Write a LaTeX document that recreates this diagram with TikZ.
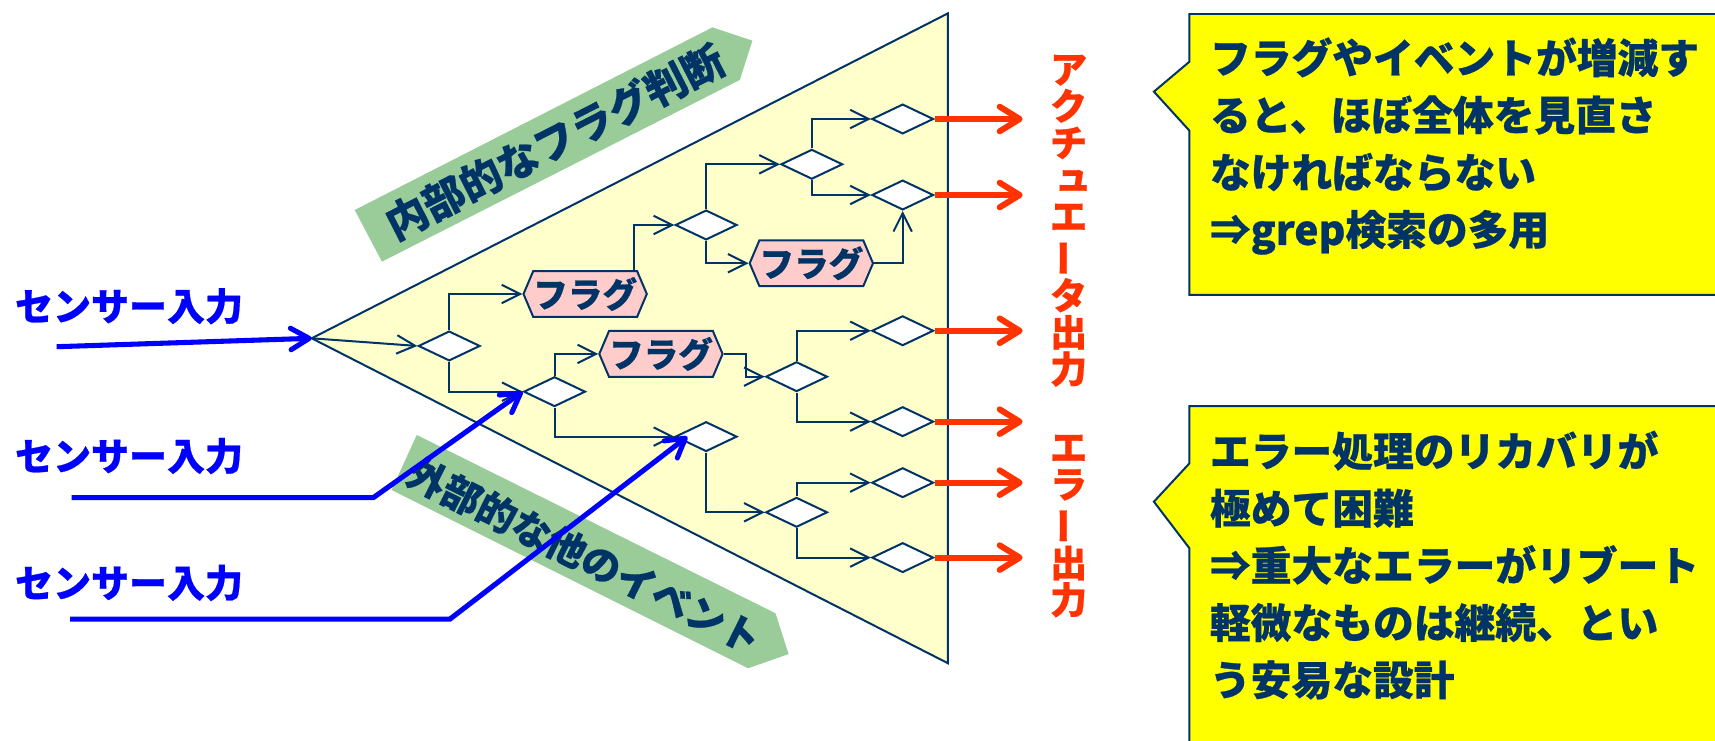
\documentclass[tikz,border=0pt]{standalone}
\usepackage{fontspec}
\setmainfont{Noto Sans CJK JP}[BoldFeatures={FakeBold=0.6}]
\usepackage{graphicx}
\usetikzlibrary{shapes.geometric,shapes.symbols,arrows.meta,calc}
\definecolor{navy}{HTML}{003366}
\definecolor{trifill}{HTML}{FFFFCC}
\definecolor{bangreen}{HTML}{99CC99}
\definecolor{flagpink}{HTML}{FFCCCC}
\definecolor{outred}{HTML}{FF3300}
\definecolor{inblue}{HTML}{0000FF}
\definecolor{calloutyellow}{HTML}{FFFF00}
\newcommand{\vchoon}{\rotatebox[origin=c]{90}{ー}}
\newcommand{\vsmallyu}{\makebox[1em][l]{\hspace{0.12em}\raisebox{0.1em}{ュ}}}
\tikzset{
  dia/.style={diamond, draw=navy, fill=white, line width=1.3pt, minimum width=1.41cm, minimum height=0.68cm, inner sep=0pt},
  flag/.style={signal, signal to=east and west, signal pointer angle=134, draw=navy, fill=flagpink, line width=1.3pt, minimum width=2.74cm, minimum height=1.05cm, inner sep=0pt, font=\bfseries\fontsize{22.5}{22.5}\selectfont, text=navy},
  conn/.style={draw=navy, line width=1.3pt, -{Straight Barb[length=12pt,width=12pt]}},
  redarr/.style={draw=outred, line width=3.9pt, -{Straight Barb[round,length=13pt,width=16pt]}},
  bluearr/.style={draw=inblue, line width=3.3pt, -{Straight Barb[round,length=12pt,width=14pt]}},
  sensor/.style={font=\bfseries\fontsize{24.7}{24.7}\selectfont, text=inblue, inner sep=0pt},
  vtext/.style={font=\bfseries\fontsize{24}{23.9}\selectfont, text=outred, align=center, inner sep=0pt},
  bantext/.style={text=navy, inner sep=0pt},
  boxtext/.style={font=\bfseries\fontsize{26.5}{37.2}\selectfont, text=navy, align=left, inner sep=0pt},
  callout/.style={draw=navy, fill=calloutyellow, line width=1.3pt},
}
\begin{document}
\begin{tikzpicture}[x=0.025cm,y=-0.025cm]
\clip (0,0) rectangle (1568,677);
\fill[white] (0,0) rectangle (1568,677);

% triangle
\coordinate (L) at (285,309.3);
\coordinate (T) at (866.7,12.2);
\coordinate (B) at (866.7,606.4);
\draw[navy, fill=trifill, line width=1.3pt] (L) -- (T) -- (B) -- cycle;

% banners
\fill[bangreen] (324.3,192) -- (651.4,25) -- (687.9,37.2) -- (676.4,73.1) -- (349.2,239.2) -- cycle;
\fill[bangreen] (381,397.7) -- (709,560.7) -- (721,598) -- (684,611) -- (358,448) -- cycle;
\node[bantext, rotate=27.05, font=\bfseries\fontsize{27}{27}\selectfont] (ban1) at (507,129) {内部的なフラグ判断};
\node[bantext, rotate=-26.4, font=\bfseries\fontsize{25.3}{25.3}\selectfont] (ban2) at (534,508) {外部的な他のイベント};

% diamonds
\node[dia] (D1) at (410.7,316.3) {};
\node[dia] (D2) at (507,358.1) {};
\node[dia] (D3) at (645.6,205.7) {};
\node[dia] (D4) at (742.2,150.2) {};
\node[dia] (D5) at (825.3,108.8) {};
\node[dia] (D6) at (825.3,178.3) {};
\node[dia] (D7) at (825.3,302.4) {};
\node[dia] (D8) at (728.3,344.4) {};
\node[dia] (D9) at (825.3,385.5) {};
\node[dia] (D10) at (645.6,399.2) {};
\node[dia] (D11) at (825.3,441.3) {};
\node[dia] (D12) at (728.3,468.4) {};
\node[dia] (D13) at (825.3,509.8) {};

% flags
\node[flag] (F1) at (535,268.8) {フラグ};
\node[flag] (F2) at (604.3,323.6) {フラグ};
\node[flag] (F3) at (741.8,240.7) {フラグ};

% connectors
\draw[conn] (L) -- (D1.west);
\draw[conn] (D1.north) |- (F1.west);
\draw[conn] (D1.south) |- (D2.west);
\draw[conn] ($(F1.north)+(44.5,0)$) |- (D3.west);
\draw[conn] (D3.north) |- (D4.west);
\draw[conn] (D3.south) |- (F3.west);
\draw[conn] (D4.north) |- (D5.west);
\draw[conn] (D4.south) |- (D6.west);
\draw[conn] (F3.east) -| (D6.south);
\draw[conn] (D2.north) |- (F2.west);
\draw[conn] (F2.east) -- ++(20.4,0) |- (D8.west);
\draw[conn] (D2.south) |- (D10.west);
\draw[conn] (D8.north) |- (D7.west);
\draw[conn] (D8.south) |- (D9.west);
\draw[conn] (D10.south) |- (D12.west);
\draw[conn] (D12.north) |- (D11.west);
\draw[conn] (D12.south) |- (D13.west);

% outputs
\coordinate (outx) at (935,0);
\foreach \d in {D5,D6,D7,D9,D11,D13}
  \draw[redarr] (\d.east) -- (\d.east -| outx);
\node[vtext] (act) at (977,201.8) {ア\\ク\\チ\\\vsmallyu\\エ\\\vchoon\\タ\\出\\力};
\node[vtext] (err) at (977,481) {エ\\ラ\\\vchoon\\出\\力};

% callouts
\draw[callout] (1087.5,12.8) -- (1600,12.8) -- (1600,269.7) -- (1087.5,269.7) -- (1087.5,119.5) -- (1055,83.8) -- (1087.5,56.4) -- cycle;
\node[boxtext, anchor=north west] (c1) at (1106,34) {フラグやイベントが増減す\\ると、ほぼ全体を見直さ\\なければならない\\⇒grep検索の多用};
\draw[callout] (1087.5,371.2) -- (1600,371.2) -- (1600,700) -- (1087.5,700) -- (1087.5,501.3) -- (1055,458.7) -- (1087.5,423.6) -- cycle;
\node[boxtext, anchor=north west] (c2) at (1106,393.5) {エラー処理のリカバリが\\極めて困難\\⇒重大なエラーがリブート\\軽微なものは継続、とい\\う安易な設計};

% sensors
\node[sensor] (s1l) at (118,280) {センサー入力};
\node[sensor] (s2l) at (118,417) {センサー入力};
\node[sensor] (s3l) at (118,533) {センサー入力};
\coordinate (s1) at (51.8,317);
\coordinate (s2) at (65.5,455);
\coordinate (s2b) at (341.3,455);
\coordinate (s3) at (64,566);
\coordinate (s3b) at (411.4,566);
\draw[bluearr] (s1) -- (L);
\draw[bluearr] (s2) -- (s2b) -- (D2.west);
\draw[bluearr] (s3) -- (s3b) -- ($(D10.west)+(12,0)$);
\end{tikzpicture}
\end{document}
